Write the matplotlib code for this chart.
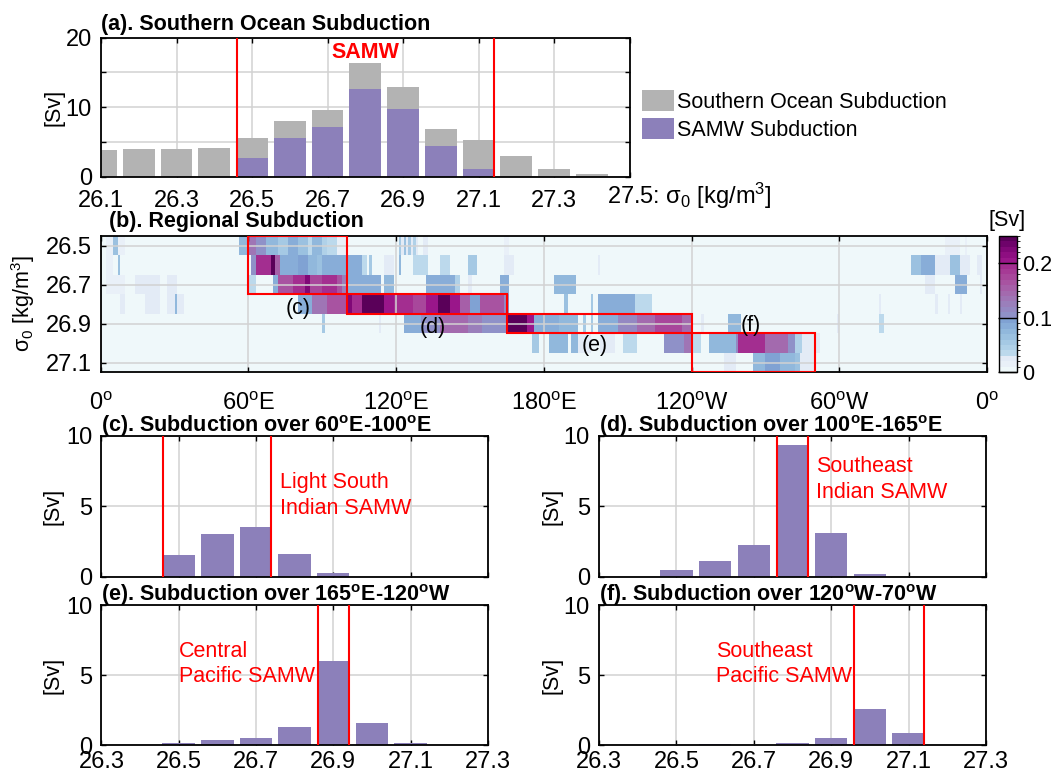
import numpy as np
import matplotlib
matplotlib.use("Agg")
import matplotlib.pyplot as plt
from matplotlib.colors import ListedColormap, BoundaryNorm
from matplotlib.patches import Patch, Rectangle

plt.rcParams["font.family"] = ["Liberation Sans", "DejaVu Sans"]
plt.rcParams["mathtext.fontset"] = "custom"
plt.rcParams["mathtext.rm"] = "Liberation Sans"
plt.rcParams["mathtext.bf"] = "Liberation Sans:bold"
plt.rcParams["mathtext.it"] = "Liberation Sans:italic"

# ---------------------------------------------------------------- data
# (a) Southern Ocean subduction per density class [Sv]
sigma_all = [26.1, 26.2, 26.3, 26.4, 26.5, 26.6, 26.7, 26.8, 26.9, 27.0, 27.1, 27.2, 27.3, 27.4]
southern_ocean_sv = [3.84, 3.94, 3.94, 4.14, 5.60, 8.03, 9.63, 16.35, 12.85, 6.86, 5.30, 2.97, 1.12, 0.39]
samw_sv = [0, 0, 0, 0, 2.63, 5.50, 7.06, 12.60, 9.78, 4.33, 1.07, 0, 0, 0]
samw_range_all = (26.46, 27.14)

# (c)-(f) regional subduction per density class [Sv]
sigma_regional = [26.4, 26.5, 26.6, 26.7, 26.8, 26.9, 27.0, 27.1, 27.2]
sv_60E_100E = [0, 1.51, 3.02, 3.55, 1.63, 0.22, 0, 0, 0]
sv_100E_165E = [0, 0.49, 1.09, 2.23, 9.39, 3.13, 0.15, 0, 0]
sv_165E_120W = [0, 0.15, 0.36, 0.53, 1.30, 6.01, 1.59, 0.14, 0]
sv_120W_70W = [0, 0, 0.05, 0, 0.12, 0.51, 2.58, 0.89, 0]
samw_range_c = (26.46, 26.74)
samw_range_d = (26.76, 26.84)
samw_range_e = (26.86, 26.94)
samw_range_f = (26.96, 27.14)

# (b) subduction by longitude: runs of (lon_start, lon_end, Sv) per density row
sigma_rows = [26.5, 26.6, 26.7, 26.8, 26.9, 27.0, 27.1]
runs_265 = [(2, 10, 0.015), (5, 7, 0.06), (56, 60, 0.07), (60, 63, 0.13), (63, 67, 0.10),
            (67, 72, 0.07), (72, 76, 0.05), (76, 80, 0.08), (80, 84, 0.06), (84, 86, 0.03),
            (86, 90, 0.07), (90, 92, 0.04), (92, 96, 0.03), (96, 100, 0.015),
            (122, 129, 0.02), (121, 122, 0.05), (123, 124, 0.06), (125, 126, 0.05),
            (127, 128, 0.04), (131, 133, 0.02), (164, 166, 0.015), (343, 349, 0.015),
            (351, 352, 0.015)]
runs_266 = [(2, 5, 0.015), (7, 8, 0.06), (61, 63, 0.10), (63, 69, 0.19), (69, 71, 0.24),
            (71, 73, 0.15), (73, 80, 0.08), (80, 84, 0.09), (84, 88, 0.07), (88, 90, 0.06),
            (90, 106, 0.08), (106, 108, 0.03), (109, 110, 0.05), (115, 119, 0.02),
            (121, 122, 0.07), (127, 133, 0.03), (138, 142, 0.03), (149, 153, 0.05),
            (164, 168, 0.02), (202, 203, 0.02), (329, 333, 0.06), (333, 339, 0.08),
            (339, 345, 0.02), (345, 349, 0.06), (349, 353, 0.02), (356, 358, 0.02)]
runs_267 = [(2, 10, 0.015), (14, 24, 0.025), (27, 31, 0.025), (60, 63, 0.03), (70, 72, 0.08),
            (72, 78, 0.16), (78, 83, 0.19), (83, 85, 0.22), (85, 90, 0.17), (90, 96, 0.19),
            (96, 98, 0.16), (98, 100, 0.12), (100, 114, 0.08), (115, 119, 0.07),
            (132, 144, 0.08), (144, 146, 0.04), (149, 151, 0.02), (162, 166, 0.08),
            (184, 193, 0.07), (335, 339, 0.02), (347, 352, 0.08), (357, 358, 0.02)]
runs_268 = [(8, 10, 0.02), (18, 24, 0.025), (27, 34, 0.025), (30, 31, 0.07), (80, 86, 0.08),
            (86, 92, 0.13), (92, 100, 0.16), (100, 102, 0.22), (102, 106, 0.19),
            (106, 115, 0.24), (115, 119, 0.20), (119, 127, 0.19), (127, 132, 0.17),
            (132, 137, 0.20), (137, 142, 0.24), (142, 146, 0.20), (146, 150, 0.15),
            (150, 154, 0.09), (154, 164, 0.16), (164, 166, 0.11), (188, 190, 0.06),
            (199, 200, 0.05), (202, 217, 0.08), (217, 224, 0.03), (316, 317, 0.02),
            (339, 340, 0.02), (344, 345, 0.02), (349, 350, 0.02)]
runs_269 = [(90, 91, 0.05), (113, 114, 0.02), (123, 130, 0.08), (130, 138, 0.10),
            (138, 149, 0.14), (149, 155, 0.12), (155, 165, 0.10), (165, 173, 0.24),
            (173, 176, 0.20), (176, 186, 0.08), (186, 194, 0.07), (196, 197, 0.05),
            (199, 200, 0.05), (202, 210, 0.08), (210, 218, 0.11), (218, 225, 0.14),
            (225, 236, 0.17), (236, 240, 0.14), (244, 245, 0.02), (255, 260, 0.07),
            (299, 300, 0.02), (316, 318, 0.03)]
runs_270 = [(175, 178, 0.05), (182, 190, 0.07), (191, 194, 0.07), (194, 199, 0.02),
            (203, 209, 0.02), (212, 218, 0.03), (229, 237, 0.10), (237, 240, 0.13),
            (240, 244, 0.03), (247, 258, 0.07), (258, 259, 0.11), (259, 270, 0.19),
            (270, 279, 0.14), (279, 282, 0.10), (282, 285, 0.04), (285, 292, 0.02)]
runs_271 = [(253, 258, 0.02), (265, 270, 0.07), (270, 276, 0.09), (276, 282, 0.07),
            (282, 284, 0.06), (284, 290, 0.02)]

lon_ticks = [0, 60, 120, 180, 240, 300, 360]
lon_labels = [r"0$^{\mathrm{o}}$", r"60$^{\mathrm{o}}$E", r"120$^{\mathrm{o}}$E",
              r"180$^{\mathrm{o}}$E", r"120$^{\mathrm{o}}$W", r"60$^{\mathrm{o}}$W",
              r"0$^{\mathrm{o}}$"]

# regional boxes (lon range, sigma range) and their tags
region_lon = [(60, 100), (100, 165), (165, 240), (240, 290)]
region_sigma = [(26.45, 26.75), (26.75, 26.85), (26.85, 26.95), (26.95, 27.15)]
region_tags = ["(c)", "(d)", "(e)", "(f)"]

# ---------------------------------------------------------------- style
FS = 15.5      # titles, labels, annotations
TFS = 17       # tick labels
GRAY = "#b3b3b3"
PURPLE = "#8c80ba"
RED = "#ff0000"
GRID = "#d2d2d2"
BAR_W = 0.084

cmap_colors = ["#eff8fa", "#e9f0f8", "#e3ebf6", "#bcd9ec", "#b0d1e8", "#a5c9e4", "#9bc1e0",
               "#91b8dc", "#88add8", "#80a2d3", "#8f91c8", "#9488c2", "#9a7fbb", "#9f75b5",
               "#a36aae", "#a65fa8", "#a853a1", "#a8479b", "#a63a95", "#a32e90", "#9a168a",
               "#8e0e81", "#800877", "#6e036a", "#5a0059"]
cmap = ListedColormap(cmap_colors)
norm = BoundaryNorm(np.arange(26) / 100, cmap.N)

W, H = 1054, 772
fig = plt.figure(figsize=(W / 100, H / 100), dpi=100)


def px_axes(left, top, right, bottom):
    return fig.add_axes([left / W, 1 - bottom / H, (right - left) / W, (bottom - top) / H])


def style_axes(ax, xpad=10):
    for s in ax.spines.values():
        s.set_linewidth(1.3)
    ax.tick_params(direction="in", top=True, right=True, length=3.5, width=1.0,
                   labelsize=TFS)
    ax.tick_params(axis="x", pad=xpad)
    ax.tick_params(axis="y", pad=6.5)
    ax.grid(True, color=GRID, lw=1.1)
    ax.set_axisbelow(True)


def title(ax, text, dy, dx=0):
    ax.annotate(text, xy=(0, 1), xycoords="axes fraction", xytext=(dx, dy),
                textcoords="offset points", ha="left", va="baseline",
                fontsize=FS, fontweight="bold")


# ---------------------------------------------------------------- (a)
ax_a = px_axes(101, 37.5, 629.5, 176.5)
style_axes(ax_a)
ax_a.bar(sigma_all, southern_ocean_sv, width=BAR_W, color=GRAY, label="Southern Ocean Subduction")
ax_a.bar(sigma_all, samw_sv, width=BAR_W, color=PURPLE, label="SAMW Subduction")
for s in samw_range_all:
    ax_a.axvline(s, color=RED, lw=1.5, zorder=3)
ax_a.set_xlim(26.1, 27.5)
ax_a.set_ylim(0, 20)
ax_a.set_xticks([26.1, 26.3, 26.5, 26.7, 26.9, 27.1, 27.3, 27.5])
ax_a.set_xticklabels(["26.1", "26.3", "26.5", "26.7", "26.9", "27.1", "27.3", ""])
ax_a.set_yticks([0, 5, 10, 15, 20])
ax_a.set_yticklabels(["0", "", "10", "", "20"])
ax_a.set_ylabel("[Sv]", fontsize=FS)
ax_a.yaxis.set_label_coords(-0.069, 0.5)
ax_a.annotate(r"27.5: σ$_0$ [kg/m$^3$]", xy=(27.5, 0), xycoords=("data", "axes fraction"),
              xytext=(-16.5, -19.5), textcoords="offset points", ha="left", va="baseline",
              fontsize=TFS, annotation_clip=False)
ax_a.text(26.8, 17.9, "SAMW", color=RED, fontsize=FS, fontweight="bold", ha="center", va="center")
title(ax_a, "(a). Southern Ocean Subduction", 5.6)
fig.legend(handles=[Patch(facecolor=GRAY), Patch(facecolor=PURPLE)],
           labels=["Southern Ocean Subduction", "SAMW Subduction"],
           loc="upper left", bbox_to_anchor=(642 / W, 1 - 89.7 / H), frameon=False,
           fontsize=FS, handlelength=1.49, handleheight=1.14, handletextpad=0.15,
           labelspacing=0.26, borderpad=0, borderaxespad=0)

# ---------------------------------------------------------------- (b)
ax_b = px_axes(100.7, 236, 987, 372.3)
style_axes(ax_b, xpad=14.5)
ax_b.set_axisbelow("line")
grid = np.zeros((len(sigma_rows), 360))
for i, runs in enumerate([runs_265, runs_266, runs_267, runs_268, runs_269, runs_270, runs_271]):
    for lo, hi, v in runs:
        grid[i, lo:hi] = v
lon_edges = np.arange(0, 361)
sig_edges = np.linspace(sigma_rows[0] - 0.05, sigma_rows[-1] + 0.05, len(sigma_rows) + 1)
mesh = ax_b.pcolormesh(lon_edges, sig_edges, grid, cmap=cmap, norm=norm)
for (l0, l1), (s0, s1) in zip(region_lon, region_sigma):
    ax_b.add_patch(Rectangle((l0, s0), l1 - l0, s1 - s0, fill=False, edgecolor=RED, lw=1.5, zorder=3))
for tag, (x, y) in zip(region_tags, [(80, 26.82), (135, 26.92), (200.5, 27.01), (264, 26.91)]):
    ax_b.text(x, y, tag, fontsize=FS, ha="center", va="center", zorder=4)
ax_b.set_xlim(0, 360)
ax_b.set_ylim(sig_edges[-1], sig_edges[0])
ax_b.set_xticks(lon_ticks)
ax_b.set_xticklabels(lon_labels)
ax_b.set_yticks([26.5, 26.7, 26.9, 27.1])
ax_b.set_yticklabels(["26.5", "26.7", "26.9", "27.1"])
ax_b.set_ylabel(r"σ$_0$ [kg/m$^3$]", fontsize=FS)
ax_b.yaxis.set_label_coords(-0.072, 0.5)
title(ax_b, "(b). Regional Subduction", 6.5, dx=6)

cax = px_axes(998.7, 236, 1017.3, 372.3)
cb = fig.colorbar(mesh, cax=cax, ticks=[0, 0.1, 0.2])
cb.ax.set_yticklabels(["0", "0.1", "0.2"])
cb.outline.set_linewidth(1.0)
cb.ax.tick_params(direction="in", length=13.4, width=1.0, labelsize=FS, pad=3.5)
cb.ax.text(0.45, 1.04, "[Sv]", transform=cb.ax.transAxes, ha="center", va="bottom", fontsize=FS)

# ---------------------------------------------------------------- (c)-(f)
panels = [
    (sv_60E_100E, samw_range_c, (101.4, 436, 487.8, 576.5),
     r"(c). Subduction over 60$^{\mathbf{o}}$E-100$^{\mathbf{o}}$E",
     "Light South\nIndian SAMW", (26.762, 5.77), False, -0.097),
    (sv_100E_165E, samw_range_d, (599, 436, 986, 576.5),
     r"(d). Subduction over 100$^{\mathbf{o}}$E-165$^{\mathbf{o}}$E",
     "Southeast\nIndian SAMW", (26.862, 6.88), False, -0.094),
    (sv_165E_120W, samw_range_e, (101.4, 605, 487.8, 745),
     r"(e). Subduction over 165$^{\mathbf{o}}$E-120$^{\mathbf{o}}$W",
     "Central\nPacific SAMW", (26.501, 5.79), True, -0.097),
    (sv_120W_70W, samw_range_f, (599, 605, 986, 745),
     r"(f). Subduction over 120$^{\mathbf{o}}$W-70$^{\mathbf{o}}$W",
     "Southeast\nPacific SAMW", (26.602, 5.79), True, -0.094),
]
for values, rng, box, ttl, note, (nx, ny), show_x, ylab_x in panels:
    ax = px_axes(*box)
    style_axes(ax, xpad=4.5)
    ax.bar(sigma_regional, values, width=BAR_W, color=PURPLE)
    for s in rng:
        ax.axvline(s, color=RED, lw=1.5, zorder=3)
    ax.text(nx, ny, note, color=RED, fontsize=FS, ha="left", va="center", linespacing=1.3)
    ax.set_xlim(26.3, 27.3)
    ax.set_ylim(0, 10)
    ax.set_xticks([26.3, 26.5, 26.7, 26.9, 27.1, 27.3])
    if show_x:
        ax.set_xticklabels(["26.3", "26.5", "26.7", "26.9", "27.1", "27.3"])
    else:
        ax.set_xticklabels([])
    ax.set_yticks([0, 5, 10])
    ax.set_yticklabels(["0", "5", "10"])
    ax.set_ylabel("[Sv]", fontsize=FS)
    ax.yaxis.set_label_coords(ylab_x, 0.5)
    title(ax, ttl, 3.2)

fig.savefig("out.png", dpi=100, facecolor="white")
